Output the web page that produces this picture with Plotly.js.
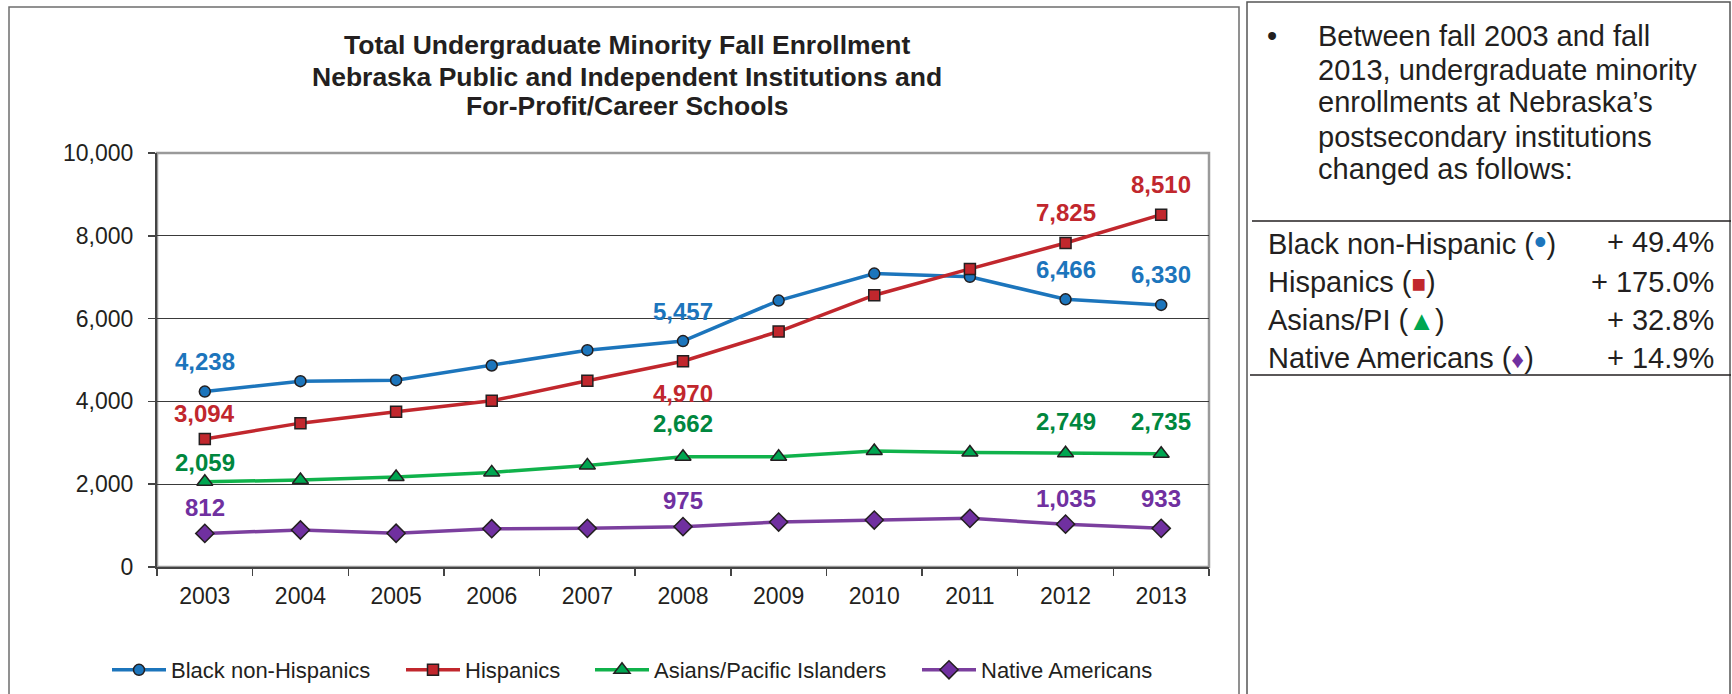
<!DOCTYPE html>
<html>
<head>
<meta charset="utf-8">
<script src="https://cdn.plot.ly/plotly-3.0.1.min.js"></script>
<style>
  html, body { margin: 0; padding: 0; background: #ffffff; }
  #chart { width: 1732px; height: 694px; }
</style>
</head>
<body>
<div id="chart"></div>
<script>
// ---------------- DATA ----------------
const years = ['2003','2004','2005','2006','2007','2008','2009','2010','2011','2012','2013'];
const seriesNames = ['Black non-Hispanics', 'Hispanics', 'Asians/Pacific Islanders', 'Native Americans'];
const blackNonHispanic = [4238, 4489, 4513, 4867, 5237, 5457, 6436, 7088, 7010, 6466, 6330];
const hispanic        = [3094, 3475, 3749, 4014, 4497, 4970, 5688, 6565, 7200, 7825, 8510];
const asianPI         = [2059, 2100, 2172, 2285, 2454, 2662, 2663, 2800, 2767, 2749, 2735];
const nativeAmerican  = [812, 893, 815, 925, 933, 975, 1086, 1134, 1175, 1035, 933];
const labeledIdx = [0, 5, 9, 10];
const yTickVals = [0, 2000, 4000, 6000, 8000, 10000];

const titleLines = [
  'Total Undergraduate Minority Fall Enrollment',
  'Nebraska Public and Independent Institutions and',
  'For-Profit/Career Schools'
];
const noteLines = [
  'Between fall 2003 and fall',
  '2013, undergraduate minority',
  'enrollments at Nebraska\u2019s',
  'postsecondary institutions',
  'changed as follows:'
];
const changeLabels = ['Black non-Hispanic', 'Hispanics', 'Asians/PI', 'Native Americans'];
const changeSymbols = ['\u2022', '\u25A0', '\u25B2', '\u2666'];
const changePct = ['+ 49.4%', '+ 175.0%', '+ 32.8%', '+ 14.9%'];

// ---------------- STYLE ----------------
const FONT = 'Arial, "Liberation Sans", Helvetica, sans-serif';
const TXT = '#231F20';
const lineColors  = ['#1C75BC', '#C1272D', '#10B24B', '#7B3F9E'];
const markerFill  = ['#1C75BC', '#C1272D', '#00A651', '#7030A0'];
const labelColors = ['#1C75BC', '#C1272D', '#00873E', '#7030A0'];
const symbols = ['circle', 'square', 'triangle-up', 'diamond'];
const msizes = [11, 11, 14, 14];
const labelShift = [
  [30, 30, 30, 30],
  [25, -32, 31, 30],
  [19, 33, 32, 32],
  [26, 26, 26, 30]
];
const symSizes = [36, 24, 27, 25];

// plot area in page pixels
const PW = 1732, PH = 694;
const L = 157, R = 1209, T = 153, B = 567;
const W = R - L, H = B - T;
const px = v => (v - L) / W;
const py = v => (B - v) / H;

const allSeries = [blackNonHispanic, hispanic, asianPI, nativeAmerican];
const legendIds = ['legend', 'legend2', 'legend3', 'legend4'];
const legendX = [107, 401, 590, 917];

const traces = allSeries.map((ys, i) => ({
  type: 'scatter',
  mode: 'lines+markers',
  x: years,
  y: ys,
  name: seriesNames[i],
  legend: legendIds[i],
  line: { color: lineColors[i], width: 3.5 },
  marker: { symbol: symbols[i], size: msizes[i], color: markerFill[i],
            line: { color: TXT, width: 1.5 } },
  cliponaxis: false,
  hoverinfo: 'x+y+name'
}));

const annotations = [];
// data labels (x given as category index)
allSeries.forEach((ys, i) => {
  labeledIdx.forEach((k, j) => {
    annotations.push({
      x: k, y: ys[k], xref: 'x', yref: 'y',
      text: '<b>' + ys[k].toLocaleString('en-US') + '</b>',
      showarrow: false, xanchor: 'center', yanchor: 'middle',
      yshift: labelShift[i][j],
      font: { family: FONT, size: 24, color: labelColors[i] }
    });
  });
});
// title lines
const titleY = [45.5, 76.5, 106.5];
titleLines.forEach((t, i) => {
  annotations.push({
    xref: 'paper', yref: 'paper', x: px(627), y: py(titleY[i]),
    xanchor: 'center', yanchor: 'middle', showarrow: false,
    text: '<b>' + t + '</b>',
    font: { family: FONT, size: 26.5, color: TXT }
  });
});
// note text
const noteY = [35.5, 69.5, 102.5, 136.5, 169.5];
annotations.push({
  xref: 'paper', yref: 'paper', x: px(1272), y: py(noteY[0]),
  xanchor: 'center', yanchor: 'middle', showarrow: false,
  text: '\u2022', font: { family: FONT, size: 29, color: TXT }
});
noteLines.forEach((t, i) => {
  annotations.push({
    xref: 'paper', yref: 'paper', x: px(1316), y: py(noteY[i]),
    xanchor: 'left', yanchor: 'middle', showarrow: false, align: 'left',
    text: t, font: { family: FONT, size: 29, color: TXT }
  });
});
// change table
const rowY = [241.5, 281.5, 319.5, 357.5];
changeLabels.forEach((t, i) => {
  annotations.push({
    xref: 'paper', yref: 'paper', x: px(1266), y: py(rowY[i]),
    xanchor: 'left', yanchor: 'middle', showarrow: false, align: 'left',
    text: t + ' (<span style="color:' + markerFill[i] + ';font-size:' + symSizes[i] + 'px">' + changeSymbols[i] + '</span>)',
    font: { family: FONT, size: 29, color: TXT }
  });
  annotations.push({
    xref: 'paper', yref: 'paper', x: px(1716), y: py(rowY[i]),
    xanchor: 'right', yanchor: 'middle', showarrow: false, align: 'right',
    text: changePct[i],
    font: { family: FONT, size: 29, color: TXT }
  });
});

const shapes = [
  // plot frame (grey top/right)
  { type: 'rect', xref: 'paper', yref: 'paper', x0: 0, x1: 1, y0: 0, y1: 1,
    line: { color: '#9a9a9a', width: 2.5 }, layer: 'below' },
  // chart outer box
  { type: 'rect', xref: 'paper', yref: 'paper', x0: px(9), x1: px(1239), y0: py(700), y1: py(7),
    line: { color: '#6d6d6d', width: 1.5 }, layer: 'below' },
  // note box
  { type: 'rect', xref: 'paper', yref: 'paper', x0: px(1247), x1: px(1730), y0: py(700), y1: py(2),
    line: { color: '#555555', width: 1.5 }, layer: 'below' },
  // table lines
  { type: 'line', xref: 'paper', yref: 'paper', x0: px(1252), x1: px(1731), y0: py(221), y1: py(221),
    line: { color: TXT, width: 1.5 } },
  { type: 'line', xref: 'paper', yref: 'paper', x0: px(1250), x1: px(1731), y0: py(375), y1: py(375),
    line: { color: TXT, width: 1.5 } }
];

const legendBase = {
  orientation: 'h', xref: 'container', yref: 'container',
  xanchor: 'left', yanchor: 'middle', y: 1 - 670 / PH, itemwidth: 54,
  font: { family: FONT, size: 22, color: TXT }, bgcolor: 'rgba(0,0,0,0)', borderwidth: 0
};
const layout = {
  width: PW, height: PH,
  paper_bgcolor: '#ffffff', plot_bgcolor: '#ffffff',
  margin: { l: L, r: PW - R, t: T, b: PH - B, pad: 0, autoexpand: false },
  font: { family: FONT, color: TXT },
  showlegend: true,
  legend:  Object.assign({}, legendBase, { x: legendX[0] / PW }),
  legend2: Object.assign({}, legendBase, { x: legendX[1] / PW }),
  legend3: Object.assign({}, legendBase, { x: legendX[2] / PW }),
  legend4: Object.assign({}, legendBase, { x: legendX[3] / PW }),
  xaxis: {
    type: 'category', range: [-0.5, 10.5], fixedrange: true,
    tickson: 'boundaries', ticks: 'outside', ticklen: 7, tickwidth: 1.5, tickcolor: '#444',
    showline: true, linecolor: '#444', linewidth: 2, showgrid: false, zeroline: false,
    ticklabelstandoff: 7,
    tickfont: { family: FONT, size: 23, color: TXT }
  },
  yaxis: {
    range: [0, 10000], fixedrange: true, tickvals: yTickVals, tickformat: ',d',
    ticks: 'outside', ticklen: 7, tickwidth: 1.5, tickcolor: '#444',
    showline: true, linecolor: '#444', linewidth: 2,
    showgrid: true, gridcolor: '#3a3a3a', gridwidth: 1, zeroline: false,
    ticklabelstandoff: 10,
    tickfont: { family: FONT, size: 23, color: TXT }
  },
  annotations: annotations,
  shapes: shapes
};

Plotly.newPlot('chart', traces, layout, { displayModeBar: false, staticPlot: true });
</script>
</body>
</html>
